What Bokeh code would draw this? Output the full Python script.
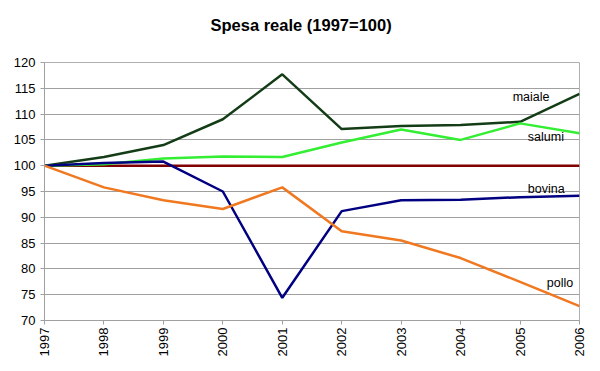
import math
from bokeh.plotting import figure
from bokeh.models import Label, FixedTicker
from bokeh.embed import file_html
from bokeh.resources import INLINE

years = [1997, 1998, 1999, 2000, 2001, 2002, 2003, 2004, 2005, 2006]
maiale = [100, 101.7, 104.0, 109.0, 117.7, 107.1, 107.7, 107.9, 108.5, 113.9]
salumi = [100, 100.3, 101.4, 101.8, 101.7, 104.5, 107.0, 105.0, 108.2, 106.3]
bovina = [100, 100.5, 100.8, 95.0, 74.4, 91.2, 93.3, 93.4, 93.9, 94.2]
pollo = [100, 95.8, 93.3, 91.6, 95.8, 87.3, 85.5, 82.1, 77.5, 72.8]
base = [100] * len(years)
y_ticks = [70, 75, 80, 85, 90, 95, 100, 105, 110, 115, 120]
title_text = "Spesa reale (1997=100)"

FONT = "Liberation Sans"

p = figure(width=592, height=363, output_backend="svg", toolbar_location=None,
           x_range=(1997, 2006), y_range=(70, 120), title=title_text,
           min_border_left=44, min_border_right=13, min_border_top=62, min_border_bottom=43)
p.title.align = "left"
p.title.offset = 166
p.title.text_font = FONT
p.title.text_font_size = "16.5px"
p.title.text_font_style = "bold"
p.title.text_color = "black"
p.title.padding = dict(top=0, bottom=24, left=0, right=0)

p.outline_line_color = "#b0b0b0"
p.background_fill_color = "white"
p.border_fill_color = "white"

p.xgrid.grid_line_color = None
p.ygrid.grid_line_color = "#a0a0a0"
p.ygrid.grid_line_width = 1

p.yaxis.ticker = FixedTicker(ticks=y_ticks)
p.xaxis.ticker = FixedTicker(ticks=years)
p.xaxis.major_label_orientation = math.pi / 2
for ax in (p.xaxis, p.yaxis):
    ax.axis_line_color = "#a0a0a0"
    ax.major_tick_line_color = "#a0a0a0"
    ax.major_tick_out = 4
    ax.major_tick_in = 0
    ax.minor_tick_line_color = None
    ax.major_label_text_font = FONT
    ax.major_label_text_font_size = "13px"
    ax.major_label_text_color = "black"
p.yaxis.major_label_standoff = 5
p.xaxis.major_label_standoff = 3

p.line(years, base, line_color="#800000", line_width=2.5)
p.line(years, maiale, line_color="#143d17", line_width=2.5)
p.line(years, salumi, line_color="#33ee33", line_width=2.5)
p.line(years, bovina, line_color="#000080", line_width=2.5)
p.line(years, pollo, line_color="#f07820", line_width=2.5)

for txt, x, y in [("maiale", 2004.875, 113.35), ("salumi", 2005.13, 105.47),
                  ("bovina", 2005.13, 95.55), ("pollo", 2005.45, 77.2)]:
    p.add_layout(Label(x=x, y=y, text=txt, text_font=FONT, text_font_size="12.5px",
                       text_color="black", text_baseline="middle"))

open("out.html", "w").write(file_html(p, INLINE))
